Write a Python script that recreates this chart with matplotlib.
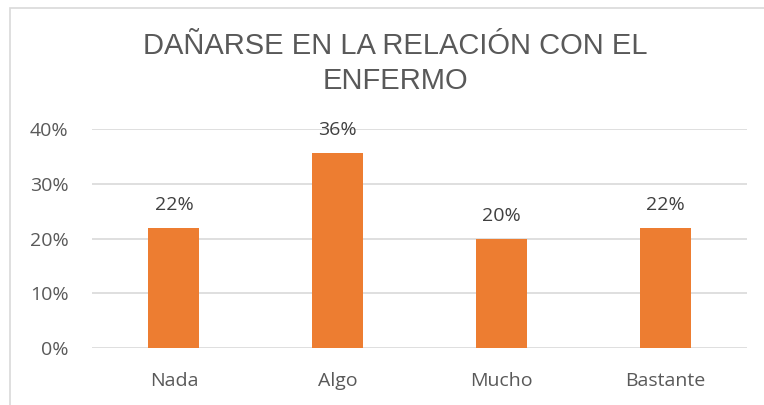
import matplotlib
matplotlib.use("Agg")
import matplotlib.pyplot as plt
from matplotlib.patches import Rectangle

categories = ["Nada", "Algo", "Mucho", "Bastante"]
values = [0.22, 0.356, 0.20, 0.22]
yticks = [0.0, 0.1, 0.2, 0.3, 0.4]
ytick_labels = ["0%", "10%", "20%", "30%", "40%"]
title = "DAÑARSE EN LA RELACIÓN CON EL\nENFERMO"

W, H = 764, 405
fig = plt.figure(figsize=(W/100, H/100), dpi=100)
fig.patch.set_facecolor("white")

# chart frame
fig.add_artist(Rectangle((10/W, -0.1), 1.2, 1 - 8/H + 0.1, transform=fig.transFigure,
                         fill=False, edgecolor="#d9d9d9", linewidth=1.2))

x0, x1 = 92, 747
y0, y1 = 348, 129
ax = fig.add_axes([x0/W, 1 - y0/H, (x1-x0)/W, (y0-y1)/H])
ax.set_xlim(-0.5, 3.5)
ax.set_ylim(0, 0.4)
xs = list(range(len(categories)))
bars = ax.bar(xs, values, width=0.31, color="#ED7D31", zorder=3)
for s in ax.spines.values():
    s.set_visible(False)
ax.set_yticks(yticks)
ax.set_yticklabels(ytick_labels)
ax.grid(axis="y", color="#d9d9d9", linewidth=1.2, zorder=0)
ax.set_xticks(xs)
ax.set_xticklabels(categories)
ax.tick_params(axis="both", length=0, labelsize=14, labelcolor="#595959")
ax.tick_params(axis="y", pad=17)
ax.tick_params(axis="x", pad=17)
for lab in ax.get_xticklabels() + ax.get_yticklabels():
    lab.set_fontfamily("Open Sans")
for x, v in zip(xs, values):
    ax.annotate(f"{round(v*100):d}%", (x, v), xytext=(0, 10), textcoords="offset points",
                ha="center", va="bottom", fontsize=14, color="#404040", family="Open Sans")

fig.text(395 / W, 1 - 63.5/H, title, ha="center", va="center",
         fontsize=21, color="#595959", family="Liberation Sans", linespacing=1.3)

fig.savefig("out.png", dpi=100)
